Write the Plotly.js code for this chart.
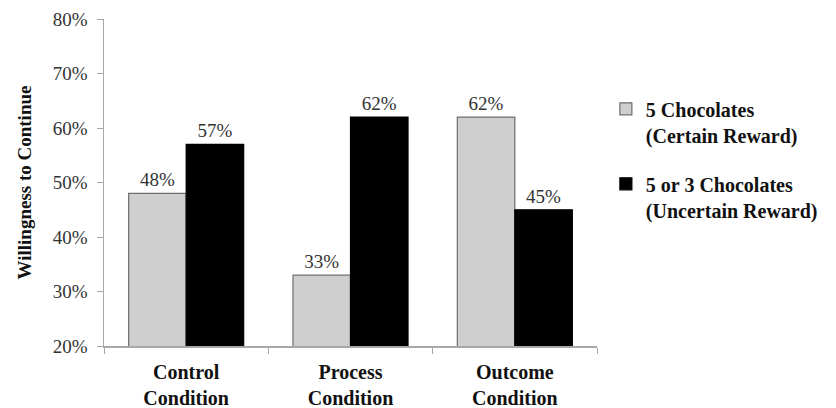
<!DOCTYPE html>
<html>
<head>
<meta charset="utf-8">
<script src="https://cdn.plot.ly/plotly-3.0.1.min.js"></script>
<style>html,body{margin:0;padding:0;background:#fff;}#chart{width:836px;height:408px;}</style>
</head>
<body>
<div id="chart"></div>
<script>
var categories = ["Control<br>Condition", "Process<br>Condition", "Outcome<br>Condition"];
var certainValues = [48, 33, 62];
var uncertainValues = [57, 62, 45];
var seriesNames = ["5 Chocolates<br>(Certain Reward)", "5 or 3 Chocolates<br>(Uncertain Reward)"];
var yTickValues = [20, 30, 40, 50, 60, 70, 80];
var yTickText = ["20%", "30%", "40%", "50%", "60%", "70%", "80%"];

var FONT = "Liberation Serif";

var traces = [
  {
    type: "bar", x: categories, y: certainValues, name: seriesNames[0],
    legendgroup: "a",
    marker: {color: "#cfcfcf", line: {color: "#6e6e6e", width: 1.2}},
    text: certainValues.map(function(v){return v + "%";}),
    textposition: "outside", cliponaxis: false,
    textfont: {family: FONT, size: 19, color: "#333"},
    hoverinfo: "none"
  },
  {
    type: "bar", x: categories, y: uncertainValues, name: seriesNames[1],
    legendgroup: "b",
    marker: {color: "#000000", line: {color: "#000", width: 1.2}},
    text: uncertainValues.map(function(v){return v + "%";}),
    textposition: "outside", cliponaxis: false,
    textfont: {family: FONT, size: 19, color: "#333"},
    hoverinfo: "none"
  }
];

var layout = {
  width: 836, height: 408,
  margin: {l: 104, r: 239, t: 19, b: 62},
  paper_bgcolor: "#fff", plot_bgcolor: "#fff",
  font: {family: FONT, color: "#222"},
  barmode: "group", bargap: 0.3, bargroupgap: 0,
  xaxis: {
    type: "category",
    showline: true, linecolor: "#a8a8a8", linewidth: 1.5,
    ticks: "outside", tickson: "boundaries", ticklen: 6, tickcolor: "#a8a8a8",
    ticklabelstandoff: 7,
    tickfont: {family: FONT, size: 20, color: "#111", weight: "bold"},
    showgrid: false, zeroline: false
  },
  yaxis: {
    range: [20, 80], tickmode: "array", tickvals: yTickValues, ticktext: yTickText,
    showline: true, linecolor: "#a8a8a8", linewidth: 1.5,
    ticks: "outside", ticklen: 6, tickcolor: "#a8a8a8",
    ticklabelstandoff: 5,
    tickfont: {family: FONT, size: 19, color: "#333"},
    showgrid: false, zeroline: false,
    title: {text: "Willingness to Continue", font: {family: FONT, size: 19, color: "#111", weight: "bold"}, standoff: 16}
  },
  legend: {
    x: 1.018, xanchor: "left", y: 0.785, yanchor: "top",
    font: {family: FONT, size: 20, color: "#111", weight: "bold"},
    tracegroupgap: 20, valign: "top", traceorder: "grouped",
    bgcolor: "rgba(0,0,0,0)"
  },
  showlegend: true
};

Plotly.newPlot("chart", traces, layout, {displayModeBar: false, staticPlot: true});
</script>
</body>
</html>
